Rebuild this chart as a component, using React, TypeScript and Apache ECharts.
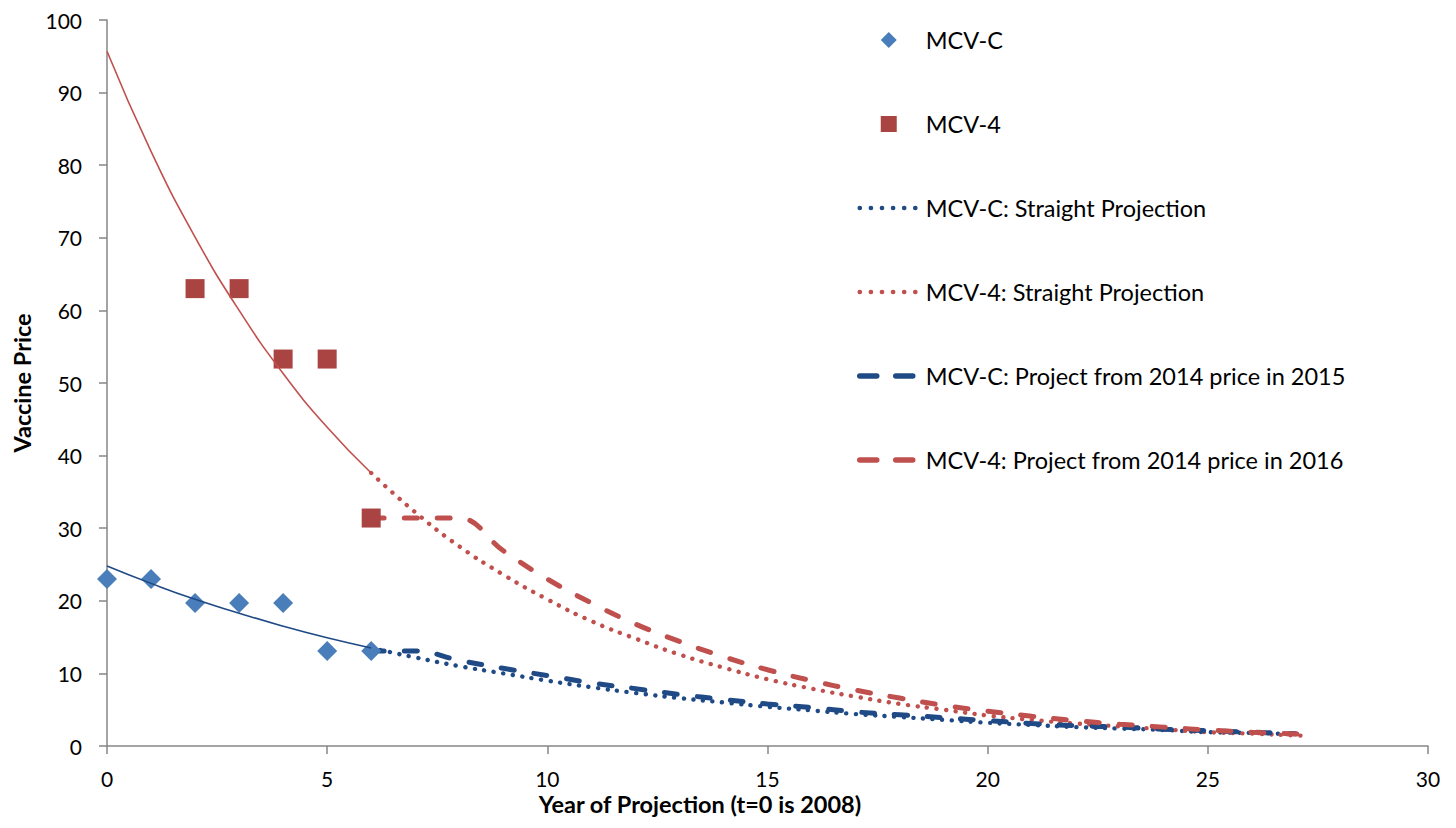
import React, { useEffect, useRef } from "react";
import * as echarts from "echarts";

// Observed prices
const mcvcObserved: [number, number][] = [
  [0, 23.0], [1, 23.0], [2, 19.7], [3, 19.7], [4, 19.7], [5, 13.1], [6, 13.1],
];
const mcv4Observed: [number, number][] = [
  [2, 63.0], [3, 63.0], [4, 53.3], [5, 53.3], [6, 31.4],
];

// Fitted trend lines over observed years
const mcvcTrend: [number, number][] = [
  [0, 24.8], [1, 22.4], [2, 20.2], [3, 18.3], [4, 16.5], [5, 14.9], [6, 13.5],
];
const mcv4Trend: [number, number][] = [
  [0, 95.7], [1, 81.9], [2, 70.1], [3, 60.0], [4, 51.3], [5, 43.9], [6, 37.6],
];

// Straight projections
const mcvcStraight: [number, number][] = [
  [6, 13.5], [7, 12.2], [8, 11.0], [9, 10.0], [10, 9.0], [11, 8.1], [12, 7.3],
  [13, 6.6], [14, 6.0], [15, 5.4], [16, 4.9], [17, 4.4], [18, 4.0], [19, 3.6],
  [20, 3.2], [21, 2.9], [22, 2.6], [23, 2.4], [24, 2.2], [25, 1.9], [26, 1.8], [27, 1.6],
];
const mcv4Straight: [number, number][] = [
  [6, 37.6], [7, 32.2], [8, 27.5], [9, 23.6], [10, 20.2], [11, 17.2], [12, 14.8],
  [13, 12.6], [14, 10.8], [15, 9.2], [16, 7.9], [17, 6.8], [18, 5.8], [19, 5.0],
  [20, 4.2], [21, 3.6], [22, 3.1], [23, 2.7], [24, 2.3], [25, 1.9], [26, 1.7], [27, 1.45], [27.25, 1.4],
];

// Projections from 2014 price
const mcvcFrom2014: [number, number][] = [
  [6, 13.1], [7, 13.1], [8, 11.8], [9, 10.7], [10, 9.7], [11, 8.7], [12, 7.9],
  [13, 7.1], [14, 6.4], [15, 5.8], [16, 5.3], [17, 4.7], [18, 4.3], [19, 3.9],
  [20, 3.5], [21, 3.1], [22, 2.8], [23, 2.6], [24, 2.3], [25, 2.1], [26, 1.9], [27, 1.7],
];
const mcv4From2014: [number, number][] = [
  [6, 31.4], [7, 31.4], [8, 31.4], [9, 26.9], [10, 23.0], [11, 19.7], [12, 16.8],
  [13, 14.4], [14, 12.3], [15, 10.5], [16, 9.0], [17, 7.7], [18, 6.6], [19, 5.6],
  [20, 4.8], [21, 4.1], [22, 3.5], [23, 3.0], [24, 2.6], [25, 2.2], [26, 1.9], [27, 1.65], [27.25, 1.55],
];

const legendNames = [
  "MCV-C",
  "MCV-4",
  "MCV-C: Straight Projection",
  "MCV-4: Straight Projection",
  "MCV-C: Project from 2014 price in 2015",
  "MCV-4: Project from 2014 price in 2016",
];

const xTitle = "Year of Projection (t=0 is 2008)";
const yTitle = "Vaccine Price";

const BLUE_MARK = "#4A7EBB";
const BLUE_LINE = "#1F4A85";
const RED_MARK = "#AA4442";
const RED_LINE = "#C0504D";
const FONT = "Lato, 'Open Sans', sans-serif";

export default function App() {
  const ref = useRef<HTMLDivElement>(null);
  useEffect(() => {
    if (!ref.current) return;
    document.body.style.margin = "0";
    const chart = echarts.init(ref.current, undefined, { renderer: "svg" });
    const dotStyle = (color: string) => ({
      color,
      width: 4.4,
      type: [0.1, 9.5] as number[],
      cap: "round" as const,
    });
    const dashStyle = (color: string) => ({
      color,
      width: 5,
      type: [13, 20] as number[],
      cap: "round" as const,
    });
    const legendDot = (color: string) => ({
      color,
      width: 4.6,
      type: [0.1, 11] as number[],
      cap: "round" as const,
    });
    const legendDash = (color: string) => ({
      color,
      width: 5.5,
      type: [17, 19] as number[],
      cap: "round" as const,
    });
    chart.setOption({
      animation: false,
      backgroundColor: "#ffffff",
      textStyle: { fontFamily: FONT },
      grid: { left: 107, right: 28, top: 20, bottom: 82, containLabel: false },
      xAxis: {
        type: "value",
        min: 0,
        max: 30,
        interval: 5,
        axisLine: { show: true, lineStyle: { color: "#868686", width: 1.5 } },
        axisTick: { show: true, length: 8, lineStyle: { color: "#868686", width: 1.5 } },
        splitLine: { show: false },
        axisLabel: { color: "#000", fontSize: 21, fontFamily: FONT, margin: 22 },
      },
      yAxis: {
        type: "value",
        min: 0,
        max: 100,
        interval: 10,
        axisLine: { show: true, lineStyle: { color: "#868686", width: 1.5 } },
        axisTick: { show: true, length: 8, lineStyle: { color: "#868686", width: 1.5 } },
        splitLine: { show: false },
        axisLabel: { color: "#000", fontSize: 21, fontFamily: FONT, margin: 25 },
      },
      legend: {
        data: [
          { name: legendNames[0], icon: "path://M0,-1L1,0L0,1L-1,0Z" },
          { name: legendNames[1], icon: "path://M0,0L1,0L1,1L0,1Z" },
          { name: legendNames[2], itemStyle: { opacity: 0 }, lineStyle: legendDot(BLUE_LINE) },
          { name: legendNames[3], itemStyle: { opacity: 0 }, lineStyle: legendDot(RED_LINE) },
          { name: legendNames[4], itemStyle: { opacity: 0 }, lineStyle: legendDash(BLUE_LINE) },
          { name: legendNames[5], itemStyle: { opacity: 0 }, lineStyle: legendDash(RED_LINE) },
        ],
        orient: "vertical",
        left: 852,
        top: 22,
        itemWidth: 58,
        itemHeight: 16,
        itemGap: 58,
        symbolKeepAspect: true,
        selectedMode: false,
        textStyle: { color: "#000", fontSize: 23.5, fontFamily: FONT, lineHeight: 26, padding: [0, 0, 0, 3] },
      },
      graphic: [
        {
          type: "text",
          x: 22,
          y: 383,
          rotation: Math.PI / 2,
          style: {
            text: yTitle,
            font: `bold 23.5px ${FONT}`,
            fill: "#000",
            textAlign: "center",
            textVerticalAlign: "middle",
          },
        },
        {
          type: "text",
          x: 700,
          y: 804,
          style: {
            text: xTitle,
            font: `bold 23.5px ${FONT}`,
            fill: "#000",
            textAlign: "center",
            textVerticalAlign: "middle",
          },
        },
      ],
      series: [
        {
          name: "trendC",
          type: "line",
          data: mcvcTrend,
          smooth: true,
          symbol: "none",
          lineStyle: { color: BLUE_LINE, width: 1.6 },
          z: 3,
        },
        {
          name: "trend4",
          type: "line",
          data: mcv4Trend,
          smooth: true,
          symbol: "none",
          lineStyle: { color: RED_LINE, width: 1.6 },
          z: 3,
        },
        {
          name: legendNames[2],
          type: "line",
          data: mcvcStraight,
          smooth: true,
          symbol: "none",
          itemStyle: { color: BLUE_LINE },
          lineStyle: dotStyle(BLUE_LINE),
          z: 2,
        },
        {
          name: legendNames[3],
          type: "line",
          data: mcv4Straight,
          smooth: true,
          symbol: "none",
          itemStyle: { color: RED_LINE },
          lineStyle: dotStyle(RED_LINE),
          z: 2,
        },
        {
          name: legendNames[4],
          type: "line",
          data: mcvcFrom2014,
          smooth: 0.4,
          symbol: "none",
          itemStyle: { color: BLUE_LINE },
          lineStyle: dashStyle(BLUE_LINE),
          z: 2,
        },
        {
          name: legendNames[5],
          type: "line",
          data: mcv4From2014,
          smooth: 0.4,
          symbol: "none",
          itemStyle: { color: RED_LINE },
          lineStyle: dashStyle(RED_LINE),
          z: 2,
        },
        {
          name: legendNames[0],
          type: "scatter",
          data: mcvcObserved,
          symbol: "diamond",
          symbolSize: [20, 20],
          itemStyle: { color: BLUE_MARK, opacity: 1 },
          z: 2.5,
        },
        {
          name: legendNames[1],
          type: "scatter",
          data: mcv4Observed,
          symbol: "rect",
          symbolSize: 19,
          itemStyle: { color: RED_MARK, opacity: 1 },
          z: 2.5,
        },
      ],
    });
    return () => chart.dispose();
  }, []);
  return <div ref={ref} style={{ width: 1456, height: 828 }} />;
}
